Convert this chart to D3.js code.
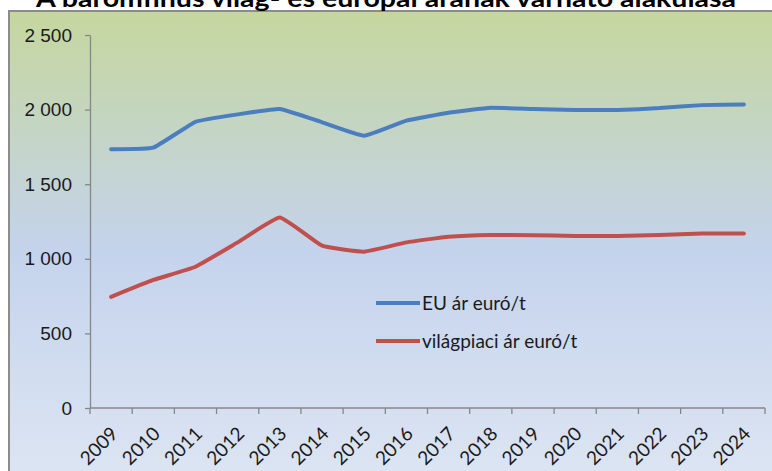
<!DOCTYPE html>
<html>
<head>
<meta charset="utf-8">
<script src="https://cdn.jsdelivr.net/npm/d3@7"></script>
<style>
  html, body { margin: 0; padding: 0; background: #fff; }
  svg { display: block; font-family: Lato, "Open Sans", sans-serif; }
  .axis path, .axis line { stroke: #878787; stroke-width: 1.3; }
  .axis text { fill: #1a1a1a; font-size: 19px; }
</style>
</head>
<body>
<div id="chart"></div>
<script>
const title = 'A baromfihús világ- és európai árának várható alakulása';
const years = ['2009','2010','2011','2012','2013','2014','2015','2016','2017','2018','2019','2020','2021','2022','2023','2024'];
const euPrice = [1735, 1745, 1918, 1968, 2004, 1915, 1825, 1926, 1979, 2012, 2004, 1997, 1997, 2010, 2030, 2035];
const worldPrice = [745, 858, 947, 1110, 1276, 1088, 1048, 1110, 1148, 1160, 1158, 1153, 1153, 1160, 1170, 1170];
const seriesNames = ['EU ár euró/t', 'világpiaci ár euró/t'];
const seriesColors = ['#4a7ebf', '#c0504d'];
const yTicks = [0, 500, 1000, 1500, 2000, 2500];

const width = 772, height = 471;
const margin = { left: 90, right: 7, top: 35, bottom: 63 };

const svg = d3.select('#chart').append('svg')
  .attr('width', width)
  .attr('height', height);

// background gradient
const grad = svg.append('defs').append('linearGradient')
  .attr('id', 'bg').attr('x1', 0).attr('y1', 0).attr('x2', 0).attr('y2', 1);
grad.append('stop').attr('offset', '0%').attr('stop-color', '#c5d79d');
grad.append('stop').attr('offset', '50%').attr('stop-color', '#c4d3ec');
grad.append('stop').attr('offset', '100%').attr('stop-color', '#dee6f3');

svg.append('rect')
  .attr('x', 9).attr('y', 11)
  .attr('width', 780).attr('height', 480)
  .attr('fill', 'url(#bg)')
  .attr('stroke', '#8c8c8c')
  .attr('stroke-width', 2);

// title sits partly above the top edge, as in the source picture
svg.append('text')
  .attr('x', 386).attr('y', 7)
  .attr('text-anchor', 'middle')
  .attr('font-size', 25)
  .attr('font-weight', 'bold')
  .attr('textLength', 700)
  .attr('lengthAdjust', 'spacingAndGlyphs')
  .attr('fill', '#000')
  .text(title);

const x = d3.scaleBand()
  .domain(years)
  .range([margin.left, width - margin.right]);

const y = d3.scaleLinear()
  .domain([0, 2500])
  .range([height - margin.bottom, margin.top]);

const fmt = d3.formatLocale({ decimal: ',', thousands: '\u00a0', grouping: [3], currency: ['', ''] }).format(',d');

svg.append('g')
  .attr('class', 'y axis')
  .attr('transform', `translate(${margin.left},0)`)
  .call(d3.axisLeft(y).tickValues(yTicks).tickSize(5).tickSizeOuter(0).tickPadding(13).tickFormat(fmt));

// x axis: line + boundary ticks
const xg = svg.append('g').attr('class', 'x axis');
xg.append('line')
  .attr('x1', margin.left).attr('x2', width - margin.right)
  .attr('y1', y(0)).attr('y2', y(0));
const bounds = years.map(d => x(d)).concat([x(years[years.length - 1]) + x.bandwidth()]);
xg.selectAll('.tick-mark')
  .data(bounds)
  .enter().append('line')
  .attr('class', 'tick-mark')
  .attr('x1', d => d).attr('x2', d => d)
  .attr('y1', y(0)).attr('y2', y(0) + 6);
xg.selectAll('.lbl')
  .data(years)
  .enter().append('text')
  .attr('class', 'lbl')
  .attr('text-anchor', 'end')
  .attr('transform', d => `translate(${x(d) + x.bandwidth() / 2 + 8},${y(0) + 27}) rotate(-45)`)
  .text(d => d);

const line = d3.line()
  .x((d, i) => x(years[i]) + x.bandwidth() / 2)
  .y(d => y(d))
  .curve(d3.curveCardinal.tension(0.65));

[euPrice, worldPrice].forEach((s, i) => {
  svg.append('path')
    .datum(s)
    .attr('fill', 'none')
    .attr('stroke', seriesColors[i])
    .attr('stroke-width', 4)
    .attr('stroke-linecap', 'round')
    .attr('d', line);
});

// legend
const legend = svg.append('g').attr('transform', 'translate(376,303)');
seriesNames.forEach((n, i) => {
  const g = legend.append('g').attr('transform', `translate(0,${i * 38})`);
  g.append('line')
    .attr('x1', 0).attr('x2', 44)
    .attr('stroke', seriesColors[i]).attr('stroke-width', 4);
  g.append('text')
    .attr('x', 46).attr('y', 7)
    .attr('font-size', 19)
    .attr('fill', '#1a1a1a')
    .text(n);
});
</script>
</body>
</html>
